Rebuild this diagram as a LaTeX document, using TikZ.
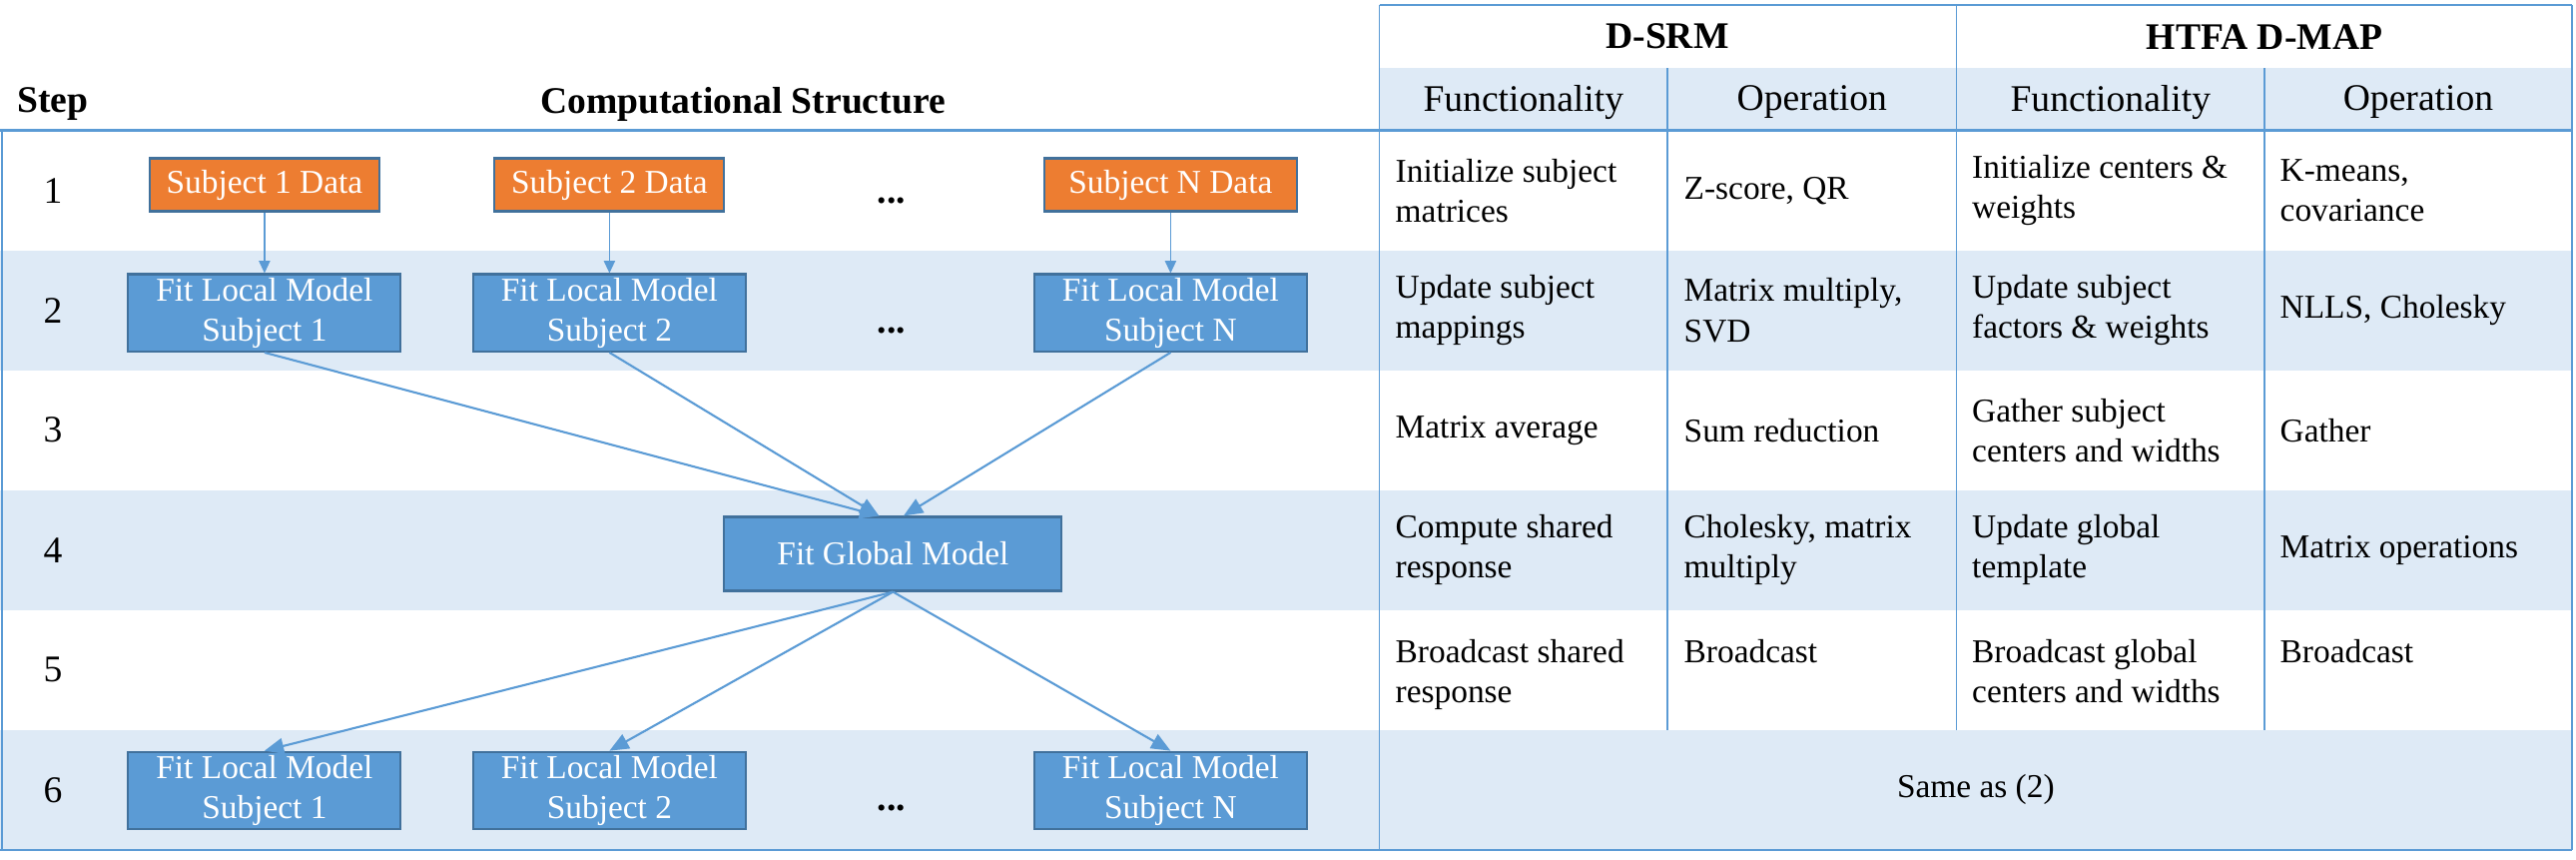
\documentclass[tikz,border=0pt]{standalone}
\usepackage{fontspec}
\setmainfont{Liberation Serif}
\usetikzlibrary{positioning,arrows.meta}
\definecolor{officeblue}{RGB}{91,155,213}
\definecolor{officeorange}{RGB}{237,125,49}
\definecolor{boxedge}{RGB}{65,113,156}
\definecolor{rowbg}{RGB}{222,234,246}
\newcommand{\bodyfont}{\fontsize{9.5}{11.4}\selectfont}
\newcommand{\headfont}{\fontsize{10.7}{12.8}\selectfont}

\begin{document}
\begin{tikzpicture}[x=1cm,y=1cm,
    databox/.style={draw=boxedge,line width=0.6pt,fill=officeorange,text=white,minimum width=2.3cm,minimum height=0.53cm,inner sep=1pt,font=\bodyfont},
    localbox/.style={draw=boxedge,line width=0.6pt,fill=officeblue,text=white,minimum width=2.73cm,minimum height=0.77cm,inner sep=1pt,align=center,font=\bodyfont},
    globalbox/.style={localbox,minimum width=3.38cm,minimum height=0.74cm},
    feed/.style={-{Triangle[length=3.5pt,width=3.2pt]},draw=officeblue,line width=0.35pt},
    flow/.style={-{Triangle[length=5.5pt,width=4.5pt]},draw=officeblue,line width=0.6pt},
    tabline/.style={draw=officeblue,line width=0.45pt},
    cell/.style={anchor=west,inner sep=0pt,align=left,font=\bodyfont},
    topcell/.style={cell,anchor=north west},
    colhead/.style={font=\headfont},
    boldhead/.style={font=\headfont\bfseries},
    stepnum/.style={font=\headfont},
    dots/.style={font=\headfont\bfseries}]
    \useasboundingbox (0,0) rectangle (25.8,-8.61);
    % shaded rows
    \fill[rowbg] (13.815,-0.683) rectangle (25.76,-1.307);
    \foreach \top/\bot in {-2.507/-3.707,-4.907/-6.107,-7.307/-8.51}{\fill[rowbg] (0,\top) rectangle (25.76,\bot);}
    % table rules
    \draw[tabline,line width=0.8pt] (0,-1.307) -- (25.76,-1.307);
    \draw[tabline,line width=0.8pt] (0,-8.51) -- (25.76,-8.51);
    \draw[tabline] (13.815,-0.05) -- (25.76,-0.05);
    \draw[tabline] (0.02,-1.307) -- (0.02,-8.51);
    \foreach \x in {13.815,25.76}{\draw[tabline] (\x,-0.05) -- (\x,-8.51);}
    \draw[tabline] (19.595,-0.05) -- (19.595,-7.307);
    \foreach \x in {16.70,22.68}{\draw[tabline] (\x,-0.683) -- (\x,-7.307);}
    % headers
    \node[boldhead] (hstep) at (0.53,-1.04) {Step};
    \node[boldhead] (hcomp) at (7.44,-1.04) {Computational Structure};
    \node[boldhead] (hsrm) at (16.70,-0.367) {D-SRM};
    \node[boldhead] (hhtfa) at (22.68,-0.367) {HTFA D-MAP};
    \node[colhead] (hsrmf) at (15.258,-1.025) {Functionality};
    \node[colhead] (hsrmo) at (18.148,-1.025) {Operation};
    \node[colhead] (hhtff) at (21.138,-1.025) {Functionality};
    \node[colhead] (hhtfo) at (24.22,-1.025) {Operation};
    % step numbers
    \foreach \n/\y in {1/-1.907,2/-3.107,3/-4.307,4/-5.507,5/-6.707,6/-7.909}{\node[stepnum] (s\n) at (0.53,\y) {\n};}
    % computational structure
    \node[databox] (d1) at (2.649,-1.85) {Subject 1 Data};
    \node[databox] (d2) at (6.104,-1.85) {Subject 2 Data};
    \node[databox,minimum width=2.535cm] (dN) at (11.724,-1.85) {Subject N Data};
    \node[localbox] (l1) at (2.649,-3.132) {Fit Local Model\\Subject 1};
    \node[localbox] (l2) at (6.104,-3.132) {Fit Local Model\\Subject 2};
    \node[localbox] (lN) at (11.724,-3.132) {Fit Local Model\\Subject N};
    \node[globalbox] (g) at (8.944,-5.545) {Fit Global Model};
    \node[localbox] (b1) at (2.649,-7.914) {Fit Local Model\\Subject 1};
    \node[localbox] (b2) at (6.104,-7.914) {Fit Local Model\\Subject 2};
    \node[localbox] (bN) at (11.724,-7.914) {Fit Local Model\\Subject N};
    \node[dots] (dots1) at (8.93,-2.01) {...};
    \node[dots] (dots2) at (8.93,-3.31) {...};
    \node[dots] (dots6) at (8.93,-8.09) {...};
    \foreach \a/\b in {d1/l1,d2/l2,dN/lN}{\draw[feed] (\a) -- (\b);}
    \draw[flow] (l1.south) -- ([xshift=-4pt]g.north);
    \draw[flow] (l2.south) -- ([xshift=-4pt]g.north);
    \draw[flow] (lN.south) -- ([xshift=3pt]g.north);
    \foreach \b in {b1,b2,bN}{\draw[flow] (g.south) -- (\b.north);}
    % table cells
    \node[cell] (srmf1) at (13.97,-1.907) {Initialize subject\\matrices};
    \node[cell] (srmo1) at (16.86,-1.907) {Z-score, QR};
    \node[cell] (htff1) at (19.745,-1.907) {Initialize centers \&\\weights};
    \node[cell] (htfo1) at (22.83,-1.907) {K-means,\\covariance};
    \node[cell] (srmf2) at (13.97,-3.107) {Update subject\\mappings};
    \node[cell] (srmo2) at (16.86,-3.107) {Matrix multiply,\\SVD};
    \node[cell] (htff2) at (19.745,-3.107) {Update subject\\factors \& weights};
    \node[cell] (htfo2) at (22.83,-3.107) {NLLS, Cholesky};
    \node[cell] (srmf3) at (13.97,-4.307) {Matrix average};
    \node[cell] (srmo3) at (16.86,-4.307) {Sum reduction};
    \node[cell] (htff3) at (19.745,-4.307) {Gather subject\\centers and widths};
    \node[cell] (htfo3) at (22.83,-4.307) {Gather};
    \node[cell] (srmf4) at (13.97,-5.507) {Compute shared\\response};
    \node[cell] (srmo4) at (16.86,-5.507) {Cholesky, matrix\\multiply};
    \node[cell] (htff4) at (19.745,-5.507) {Update global\\template};
    \node[cell] (htfo4) at (22.83,-5.507) {Matrix operations};
    \node[topcell] (srmf5) at (13.97,-6.40) {Broadcast shared\\response};
    \node[topcell] (srmo5) at (16.86,-6.40) {Broadcast};
    \node[topcell] (htff5) at (19.745,-6.40) {Broadcast global\\centers and widths};
    \node[topcell] (htfo5) at (22.83,-6.40) {Broadcast};
    \node[font=\bodyfont] (same6) at (19.788,-7.909) {Same as (2)};
  \end{tikzpicture}
\end{document}
